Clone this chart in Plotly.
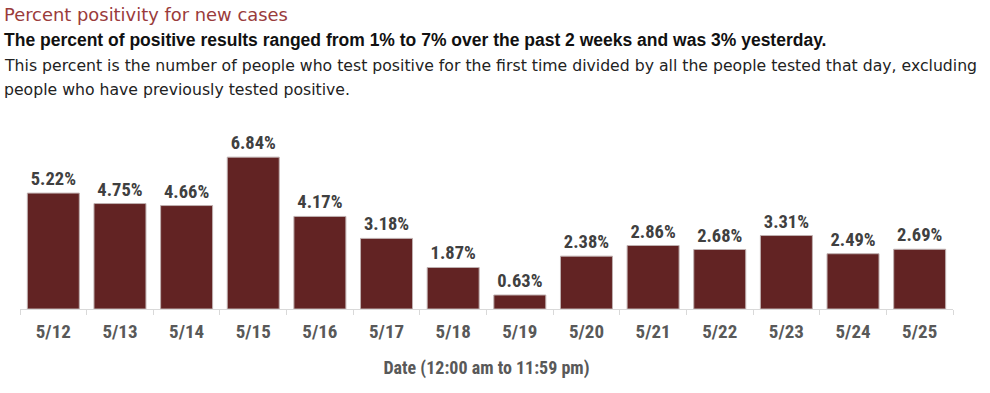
import plotly.graph_objects as go

dates = ["5/12", "5/13", "5/14", "5/15", "5/16", "5/17", "5/18", "5/19",
         "5/20", "5/21", "5/22", "5/23", "5/24", "5/25"]
positivity = [5.22, 4.75, 4.66, 6.84, 4.17, 3.18, 1.87, 0.63,
              2.38, 2.86, 2.68, 3.31, 2.49, 2.69]
labels = [f"{v:.2f}%" for v in positivity]

title = "Percent positivity for new cases"
subtitle = "The percent of positive results ranged from 1% to 7% over the past 2 weeks and was 3% yesterday."
desc1 = "This percent is the number of people who test positive for the first time divided by all the people tested that day, excluding"
desc2 = "people who have previously tested positive."
xtitle = "Date (12:00 am to 11:59 pm)"

W, H = 990, 393
ML, MR, MT, MB = 20, 37, 130, 84
narrow = "Liberation Sans Narrow, Arial Narrow, Roboto Condensed, sans-serif"
regular = "Liberation Sans, Arial, sans-serif"
wide = "DejaVu Sans, Verdana, sans-serif"

fig = go.Figure(go.Bar(
    x=dates, y=positivity, text=labels, textposition="outside",
    textfont=dict(family=narrow, size=18.5, color="#404040", weight="bold"),
    marker=dict(color="#622323", line=dict(color="#bfb0b0", width=1)),
    cliponaxis=False,
))

plot_h = H - MT - MB

def py(ypx):
    return (H - MB - ypx) / plot_h

def px(xpx):
    return (xpx - ML) / (W - ML - MR)

anns = [
    dict(text=title, x=px(2), y=py(14), font=dict(family=wide, size=17.9, color="#9a3b3b")),
    dict(text="<b>" + subtitle + "</b>", x=px(2), y=py(40), font=dict(family=regular, size=17.5, color="#111111")),
    dict(text=desc1, x=px(2), y=py(65), font=dict(family=wide, size=15.7, color="#222222")),
    dict(text=desc2, x=px(2), y=py(89), font=dict(family=wide, size=15.7, color="#222222")),
]
for a in anns:
    a.update(xref="paper", yref="paper", xanchor="left", yanchor="middle", showarrow=False)

fig.update_layout(
    width=W, height=H,
    margin=dict(l=ML, r=MR, t=MT, b=MB, autoexpand=False),
    paper_bgcolor="white", plot_bgcolor="white",
    bargap=0.22,
    showlegend=False,
    annotations=anns,
    xaxis=dict(
        showline=True, linecolor="#d9d9d9", linewidth=1,
        ticks="outside", tickson="boundaries", ticklen=5, tickcolor="#d9d9d9",
        ticklabelstandoff=5,
        tickfont=dict(family=narrow, size=19, color="#595959", weight="bold"),
        title=dict(text=xtitle, standoff=19,
                   font=dict(family=narrow, size=18, color="#595959", weight="bold")),
    ),
    yaxis=dict(visible=False, range=[0, (H - MB - MT) / 22.2]),
)

fig.write_html("out.html", config={"displayModeBar": False},
               post_script="document.body.style.margin='0';document.body.style.overflow='hidden';")
